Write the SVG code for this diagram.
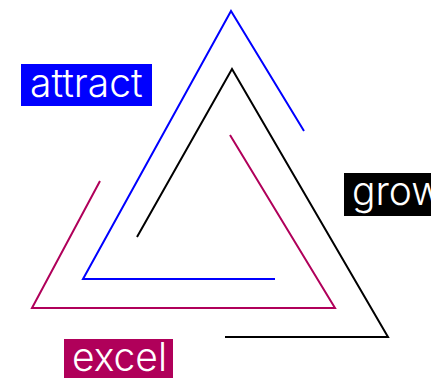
<svg xmlns="http://www.w3.org/2000/svg" width="431" height="378" viewBox="0 0 431 378">
<style>
.ln{fill:none;stroke-width:2;stroke-linejoin:miter}
.lb{font-family:Inter,"Liberation Sans",sans-serif;font-weight:300;font-size:39px;fill:#fff}
</style>
<rect width="431" height="378" fill="#fff"/>
<g id="connectors">
<polyline class="ln" stroke="#0000ff" points="304,131 231,11 83,279 275,279"/>
<polyline class="ln" stroke="#000" points="137,237 232,69 388,337 225,337"/>
<polyline class="ln" stroke="#b0005a" points="100,181 32,308 335,308 230,135"/>
</g>
<g id="attract">
<rect x="21" y="64" width="131" height="42" fill="#0000ff"/>
<text class="lb" x="30" y="97">attract</text>
</g>
<g id="grow">
<rect x="344" y="173" width="100" height="43" fill="#000"/>
<text class="lb" x="352" y="205">grow</text>
</g>
<g id="excel">
<rect x="64" y="339" width="109" height="45" fill="#b0005a"/>
<text class="lb" x="72" y="371">excel</text>
</g>
</svg>
